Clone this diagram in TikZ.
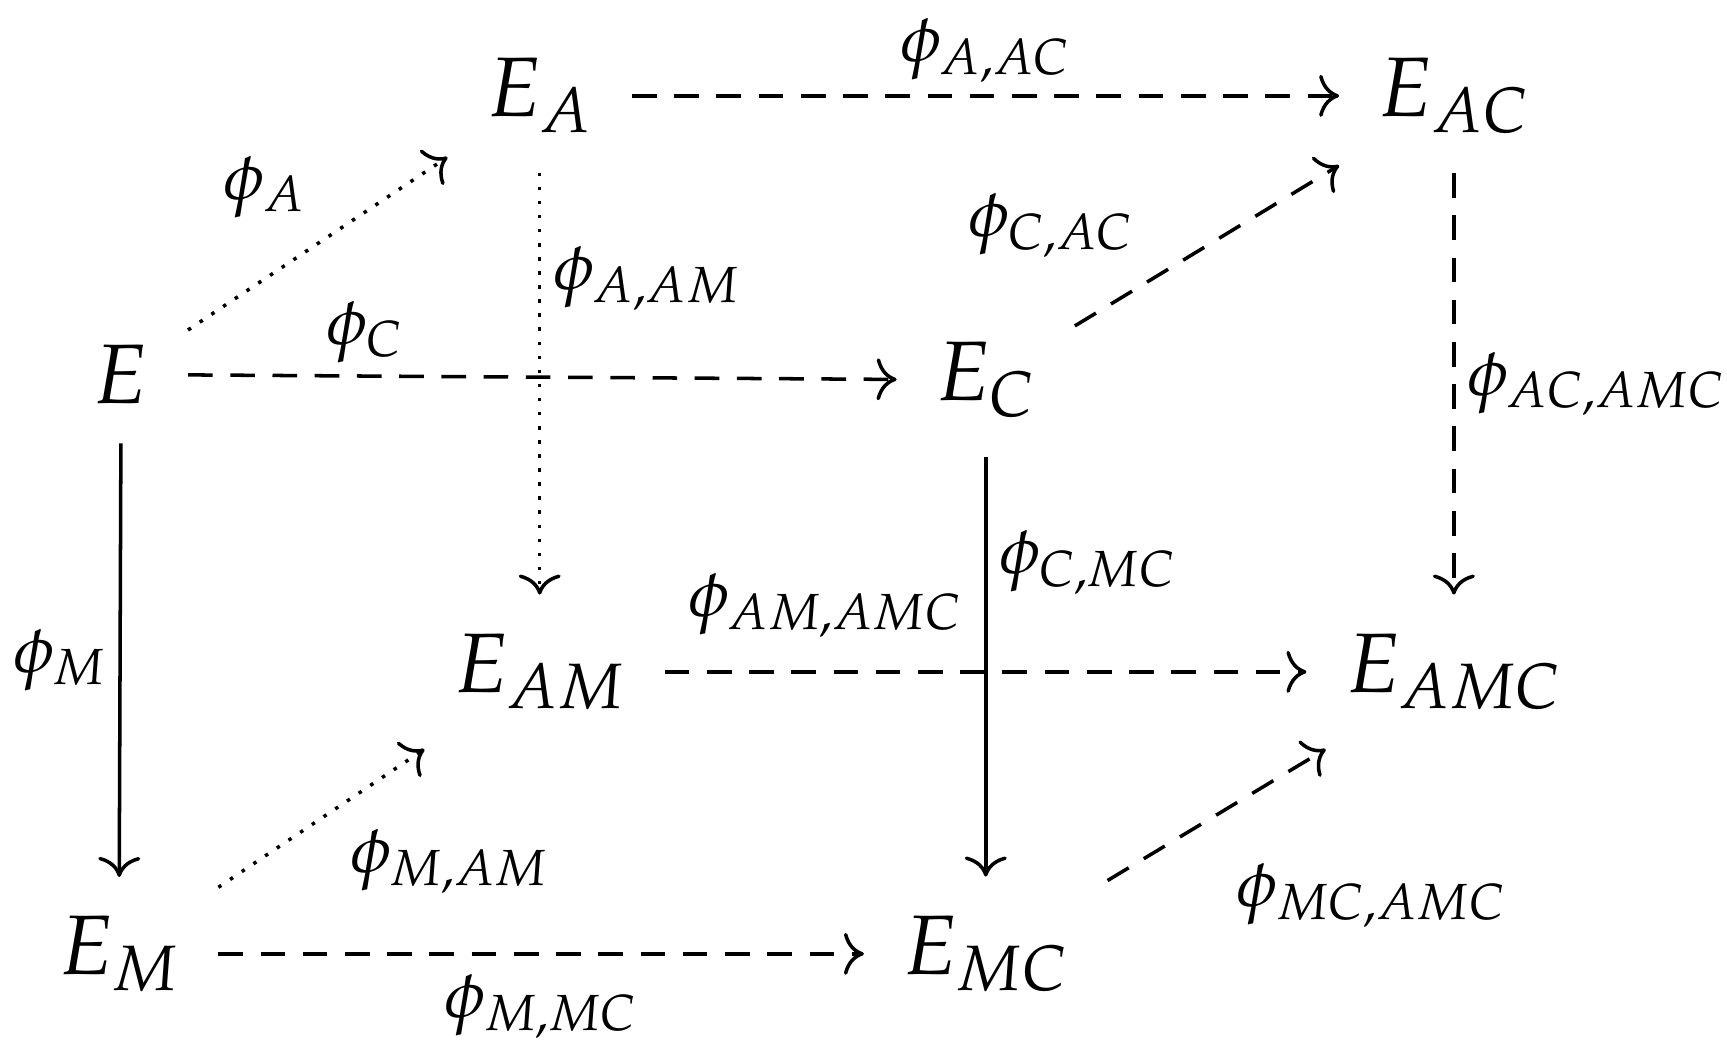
\documentclass[tikz,border=0pt]{standalone}
\usepackage{mathpazo}
\usetikzlibrary{positioning,arrows.meta}
\tikzset{
  obj/.style = {font=\fontsize{24}{28}\selectfont, inner sep=11pt},
  lbl/.style = {font=\fontsize{19}{22}\selectfont},
  map/.style = {-{Computer Modern Rightarrow[scale=1.5]}, line width=1pt},
  dsh/.style = {map, dash pattern=on 7pt off 5pt},
  dtd/.style = {map, dash pattern=on 1pt off 3pt},
}
\begin{document}
\begin{tikzpicture}[x=0.011cm, y=-0.011cm]
  \useasboundingbox (0,0) rectangle (1568,952);
  % objects
  \node[obj] (E)   at (110,340) {$E$};
  \node[obj] (EA)  at (490,87)  {$E_A$};
  \node[obj] (EAC) at (1320,87) {$E_{AC}$};
  \node[obj] (EC)  at (895,345) {$E_C$};
  \node[obj] (EAM) at (490,610) {$E_{AM}$};
  \node[obj] (EAMC) at (1320,610) {$E_{AMC}$};
  \node[obj] (EM)  at (108,866) {$E_M$};
  \node[obj] (EMC) at (895,866) {$E_{MC}$};

  % maps
  \draw[dtd] (E) -- (EA) node[lbl, pos=0.45, above left=6pt and -4pt] {$\phi_A$};
  \draw[dsh] (E) -- (EC) node[lbl, pos=0.25, above] {$\phi_C$};
  \draw[map] (E) -- (EM) node[lbl, midway, left] {$\phi_M$};
  \draw[dsh] (EA) -- (EAC) node[lbl, midway, above=0pt] {$\phi_{A,AC}$};
  \draw[dtd] (EA) -- (EAM) node[lbl, pos=0.25, right] {$\phi_{A,AM}$};
  \draw[dsh] (EC) -- (EAC) node[lbl, pos=0.3, above left=2pt and 2pt] {$\phi_{C,AC}$};
  \draw[map] (EC) -- (EMC) node[lbl, pos=0.25, right] {$\phi_{C,MC}$};
  \draw[dsh] (EAC) -- (EAMC) node[lbl, pos=0.5, right] {$\phi_{AC,AMC}$};
  \draw[dsh] (EAM) -- (EAMC) node[lbl, pos=0.25, above=6pt] {$\phi_{AM,AMC}$};
  \draw[dtd] (EM) -- (EAM) node[lbl, pos=0.55, below right=2pt] {$\phi_{M,AM}$};
  \draw[dsh] (EM) -- (EMC) node[lbl, pos=0.5, below=2pt] {$\phi_{M,MC}$};
  \draw[dsh] (EMC) -- (EAMC) node[lbl, pos=0.5, below right=10pt and 2pt] {$\phi_{MC,AMC}$};
\end{tikzpicture}
\end{document}
